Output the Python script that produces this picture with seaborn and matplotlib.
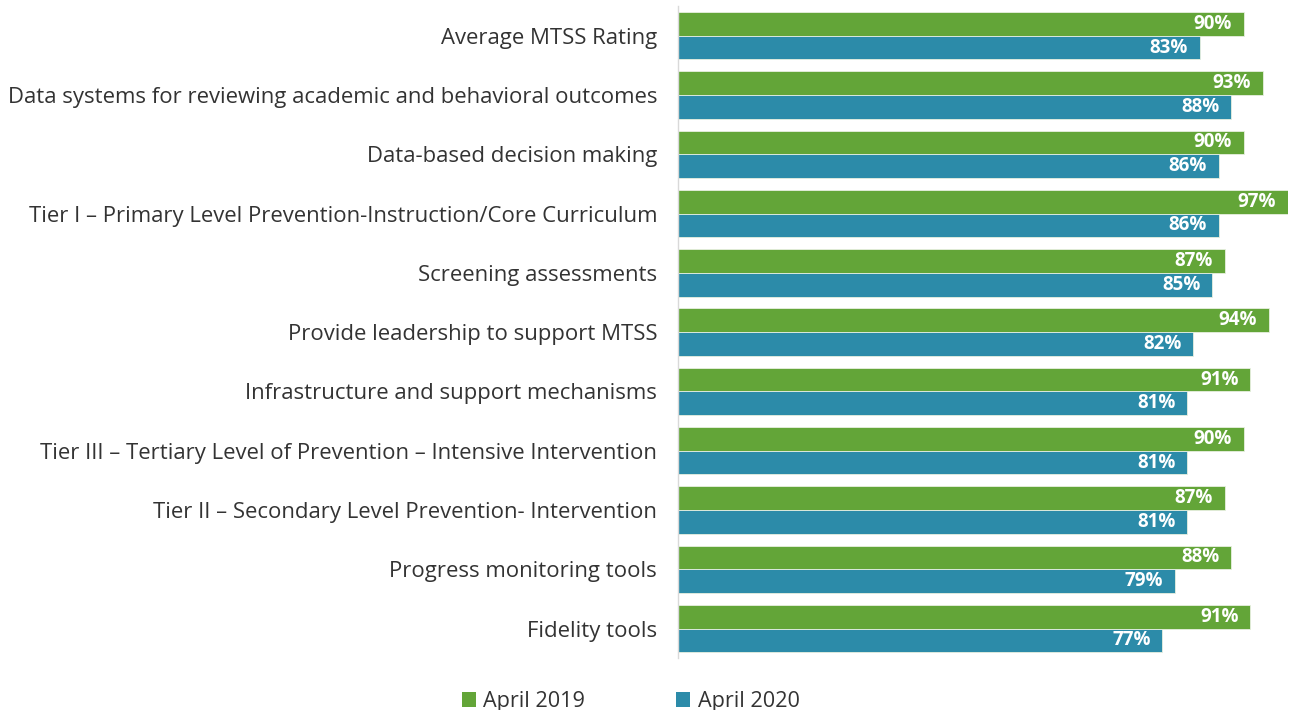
import matplotlib
matplotlib.use("Agg")
import matplotlib.pyplot as plt
from matplotlib.patches import Patch
import seaborn as sns
import pandas as pd

categories = [
    "Average MTSS Rating",
    "Data systems for reviewing academic and behavioral outcomes",
    "Data-based decision making",
    "Tier I \u2013 Primary Level Prevention-Instruction/Core Curriculum",
    "Screening assessments",
    "Provide leadership to support MTSS",
    "Infrastructure and support mechanisms",
    "Tier III \u2013 Tertiary Level of Prevention \u2013 Intensive Intervention",
    "Tier II \u2013 Secondary Level Prevention- Intervention",
    "Progress monitoring tools",
    "Fidelity tools",
]
april_2019 = [90, 93, 90, 97, 87, 94, 91, 90, 87, 88, 91]
april_2020 = [83, 88, 86, 86, 85, 82, 81, 81, 81, 79, 77]
series_names = ["April 2019", "April 2020"]
colors = ["#63A538", "#2C8BA9"]

df = pd.DataFrame({
    "category": categories * 2,
    "value": april_2019 + april_2020,
    "series": [series_names[0]] * len(categories) + [series_names[1]] * len(categories),
})

sns.set_style("white")
plt.rcParams["font.family"] = ["Open Sans", "DejaVu Sans"]

fig = plt.figure(figsize=(12.89, 7.10), dpi=100)
ax = fig.add_axes([0.526, 0.073, 0.4735, 0.9185])

sns.barplot(data=df, y="category", x="value", hue="series", order=categories,
            hue_order=series_names, palette=colors, orient="h", width=0.8,
            saturation=1, edgecolor="#E8F0E0", linewidth=0.6, ax=ax, legend=False)

for cont in ax.containers:
    ax.bar_label(cont, labels=[f"{v:.0f}%" for v in cont.datavalues],
                 label_type="edge", padding=-36, color="white",
                 fontsize=13.5, fontweight="bold")

ax.set_xlim(0, 97.1)
ax.set_ylim(10.5, -0.5)
ax.set_xlabel("")
ax.set_ylabel("")
ax.set_xticks([])
ax.tick_params(axis="y", length=0, pad=15, labelsize=15.9, labelcolor="#333333")
for s in ["top", "right", "bottom"]:
    ax.spines[s].set_visible(False)
ax.spines["left"].set_color("#D9D9D9")
ax.spines["left"].set_linewidth(1.0)

handles = [Patch(facecolor=c, edgecolor="none") for c in colors]
fig.legend(handles, series_names, loc="center left", bbox_to_anchor=(0.343, 0.012),
           ncol=2, frameon=False, fontsize=15.6, handlelength=0.65, handleheight=0.65,
           handletextpad=0.35, columnspacing=4.2, labelcolor="#333333")

fig.savefig("out.png", dpi=100)
